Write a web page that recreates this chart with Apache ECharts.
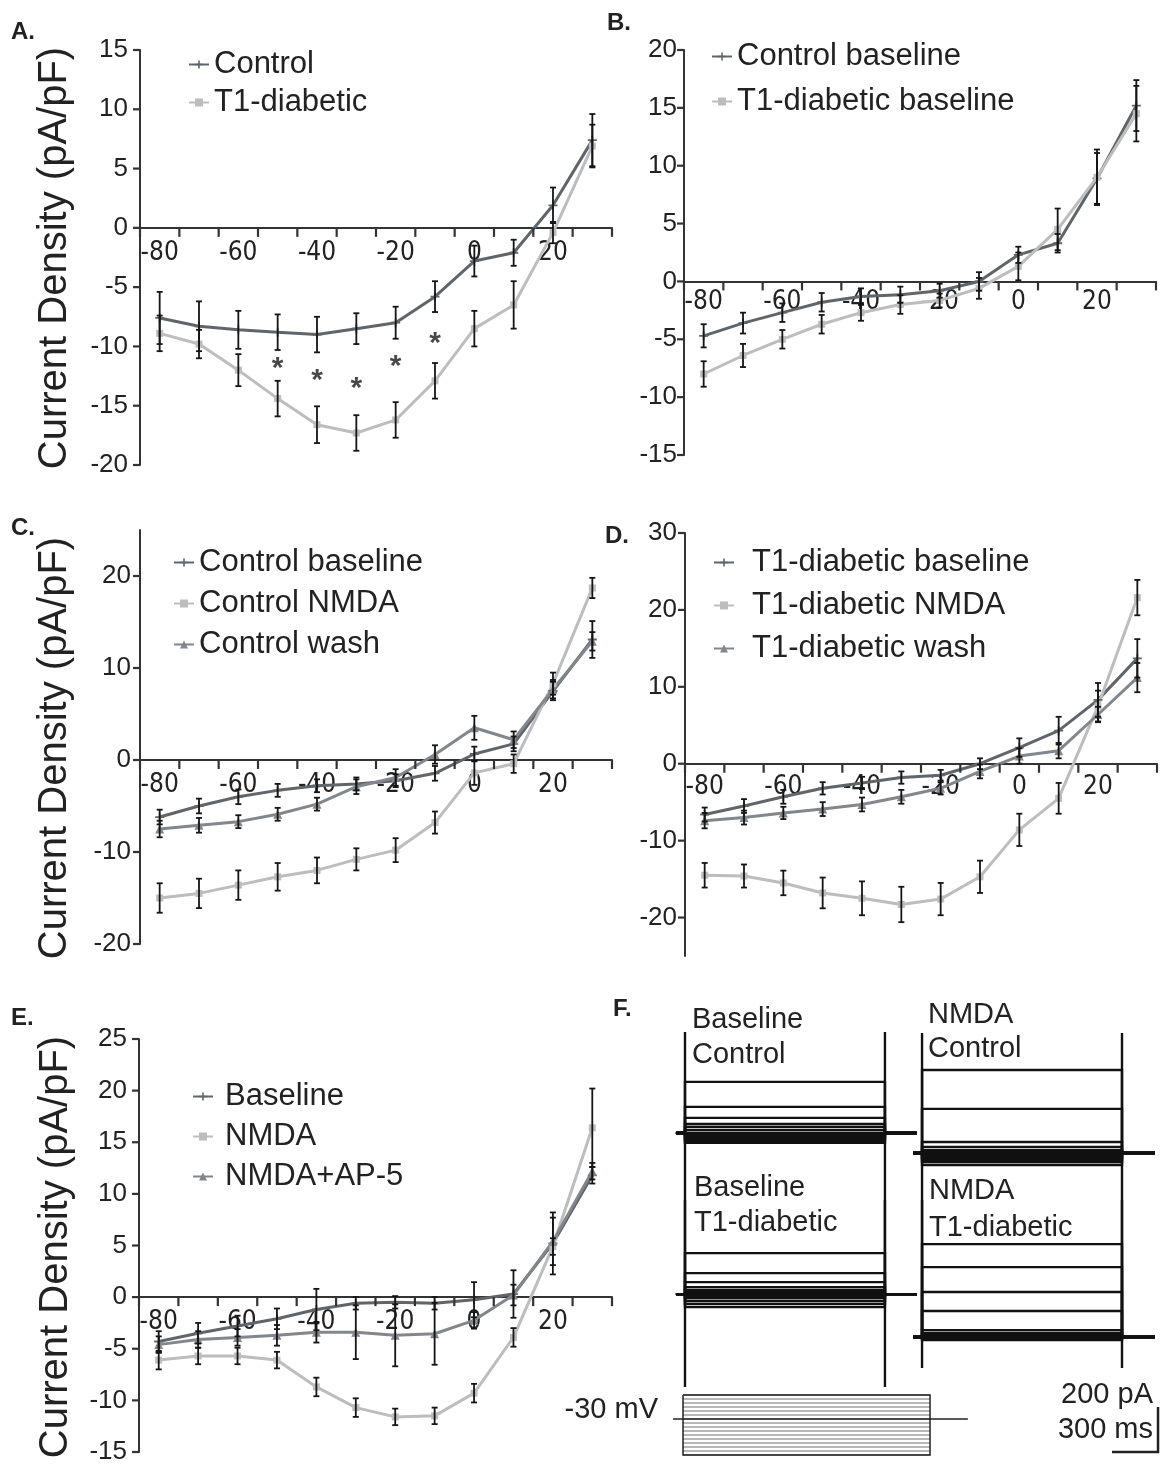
<!DOCTYPE html>
<html>
<head>
<meta charset="utf-8">
<script src="https://cdn.jsdelivr.net/npm/echarts@6/dist/echarts.min.js"></script>
<style>
html, body { margin: 0; padding: 0; background: #fff; }
#fig { width: 1165px; height: 1471px; }
</style>
</head>
<body>
<div id="fig"></div>
<script>
// step potentials (mV) shared by all I-V panels
var voltages = [-80, -70, -60, -50, -40, -30, -20, -10, 0, 10, 20, 30];
var xLabelValues = [-80, -60, -40, -20, 0, 20];
var xTickValues = [-85, -75, -65, -55, -45, -35, -25, -15, -5, 5, 15, 25, 35];

// A. control vs T1-diabetic
var aTicks = [-20, -15, -10, -5, 0, 5, 10, 15];
var aControl = [-7.6, -8.3, -8.6, -8.8, -9.0, -8.5, -8.0, -5.8, -2.8, -2.1, 1.9, 7.4];
var aControlErr = [2.2, 2.1, 1.6, 1.5, 1.5, 1.3, 1.35, 1.3, 1.3, 1.1, 1.5, 2.2];
var aT1 = [-8.9, -9.8, -12.0, -14.4, -16.6, -17.3, -16.2, -12.9, -8.5, -6.5, -0.4, 6.9];
var aT1Err = [1.5, 1.2, 1.35, 1.5, 1.55, 1.5, 1.5, 1.5, 1.5, 2.0, 0.9, 1.8];
var aStars = [null, null, null, -11.3, -12.3, -13.0, -11.15, -9.2, null, null, null, null];

// B. baselines
var bTicks = [-15, -10, -5, 0, 5, 10, 15, 20];
var bControl = [-4.7, -3.6, -2.7, -1.8, -1.3, -1.15, -0.8, 0.0, 2.3, 3.3, 8.9, 15.2];
var bControlErr = [1.0, 0.9, 0.8, 0.8, 0.7, 0.7, 0.6, 0.8, 0.7, 0.8, 2.2, 2.2];
var bT1 = [-8.0, -6.4, -5.0, -3.7, -2.7, -2.0, -1.65, -0.6, 1.3, 4.5, 9.0, 14.5];
var bT1Err = [1.1, 1.0, 0.8, 0.8, 0.7, 0.8, 0.6, 0.9, 1.2, 1.8, 2.4, 2.4];

// C. control: baseline / NMDA / wash
var cTicks = [-20, -10, 0, 10, 20];
var cBase = [-6.2, -5.0, -4.0, -3.3, -2.8, -2.6, -2.25, -1.45, 0.65, 1.75, 7.5, 13.1];
var cBaseErr = [0.8, 0.8, 0.8, 0.7, 0.7, 0.7, 0.7, 0.8, 0.8, 0.8, 1.0, 2.0];
var cNmda = [-15.0, -14.5, -13.6, -12.7, -12.0, -10.8, -9.8, -6.8, -1.4, -0.4, 8.3, 18.7];
var cNmdaErr = [1.6, 1.6, 1.6, 1.5, 1.4, 1.2, 1.3, 1.2, 1.3, 1.0, 1.2, 1.1];
var cWash = [-7.5, -7.1, -6.7, -5.9, -4.8, -2.9, -1.9, 0.6, 3.5, 2.2, 7.7, 12.9];
var cWashErr = [0.9, 0.8, 0.7, 0.7, 0.7, 0.8, 0.9, 1.0, 1.3, 0.9, 1.0, 1.0];

// D. T1-diabetic: baseline / NMDA / wash
var dTicks = [-20, -10, 0, 10, 20, 30];
var dBase = [-6.6, -5.5, -4.3, -3.2, -2.5, -1.8, -1.5, 0.0, 2.1, 4.3, 8.3, 13.7];
var dBaseErr = [0.9, 0.9, 0.9, 0.8, 0.8, 0.8, 0.7, 0.7, 1.2, 1.8, 2.2, 2.5];
var dNmda = [-14.5, -14.6, -15.5, -16.8, -17.5, -18.3, -17.6, -14.7, -8.6, -4.5, 7.5, 21.6];
var dNmdaErr = [1.6, 1.5, 1.6, 2.0, 2.2, 2.3, 2.1, 2.1, 2.1, 2.0, 2.0, 2.3];
var dWash = [-7.4, -7.0, -6.4, -5.9, -5.3, -4.3, -3.2, -1.0, 1.0, 1.7, 6.4, 11.2];
var dWashErr = [1.0, 0.9, 0.8, 0.9, 0.9, 0.9, 0.8, 0.9, 1.0, 1.0, 1.0, 1.9];

// E. baseline / NMDA / NMDA+AP-5
var eTicks = [-15, -10, -5, 0, 5, 10, 15, 20, 25];
var eBase = [-4.3, -3.5, -2.8, -2.1, -1.2, -0.6, -0.5, -0.6, -0.25, 0.3, 5.2, 11.8];
var eBaseErr = [1.0, 1.0, 1.0, 1.0, 2.0, 0.6, 0.6, 0.6, 1.7, 2.3, 3.0, 0.8];
var eNmda = [-6.1, -5.7, -5.7, -6.1, -8.7, -10.7, -11.6, -11.5, -9.3, -3.9, 4.9, 16.4];
var eNmdaErr = [0.9, 0.8, 0.8, 0.8, 0.9, 0.9, 0.8, 0.8, 0.9, 0.9, 0.8, 3.8];
var eAp5 = [-4.6, -4.1, -3.9, -3.7, -3.4, -3.4, -3.7, -3.55, -2.25, 0.2, 5.4, 12.2];
var eAp5Err = [0.8, 0.8, 0.8, 1.0, 1.0, 2.6, 3.0, 3.0, 0.8, 1.0, 2.3, 0.8];

// F. example traces: steady-state step current (pA, relative to holding) per step
var fBaseControl = [-44, -36, -27, -18, -9, 0, 13, 27, 40, 67, 116, 227];
var fBaseT1 = [-58, -44, -31, -18, -9, 0, 9, 18, 31, 53, 93, 182];
var fNmdaControl = [-53, -40, -31, -22, -13, -4, 4, 13, 27, 49, 196, 369];
var fNmdaT1 = [-13, -9, -4, 0, 4, 9, 18, 31, 116, 200, 311, 413];
var protocolSteps = [30, 20, 10, 0, -10, -20, -30, -40, -50, -60, -70, -80, -90, -100, -110, -120];
var holdingPotential = -30;

var SANS = '"Liberation Sans", Arial, sans-serif';
var NARROW = '"Liberation Sans Narrow", "DejaVu Sans Condensed", "Liberation Sans", Arial, sans-serif';
var DARK = '#5f666b', LIGHT = '#bdbdbd', MID = '#81878c';
var PLUS = 'path://M4,0h2v4h4v2h-4v4h-2v-4h-4v-2h4z';

var panels = [
    { key: 'A', grid: { left: 140, top: 50, width: 472, height: 415 }, min: -20, max: 15, ticks: aTicks,
      xMargin: 12, yMargin: 12, legend: { left: 183, top: 44, itemGap: 7, pad: 0 },
      lines: [['Control', aControl, aControlErr, DARK, PLUS, 9],
              ['T1-diabetic', aT1, aT1Err, LIGHT, 'rect', 7]] },
    { key: 'B', grid: { left: 684, top: 50, width: 472, height: 405 }, min: -15, max: 20, ticks: bTicks,
      xMargin: 8, yMargin: 7, legend: { left: 706, top: 36, itemGap: 14, pad: 0 },
      lines: [['Control baseline', bControl, bControlErr, DARK, PLUS, 9],
              ['T1-diabetic baseline', bT1, bT1Err, LIGHT, 'rect', 7]] },
    { key: 'C', grid: { left: 140, top: 530, width: 472, height: 414 }, min: -20, max: 25, ticks: cTicks,
      xMargin: 12, yMargin: 9, legend: { left: 168, top: 542, itemGap: 10, pad: 0 },
      lines: [['Control baseline', cBase, cBaseErr, DARK, PLUS, 9],
              ['Control NMDA', cNmda, cNmdaErr, LIGHT, 'rect', 7],
              ['Control wash', cWash, cWashErr, MID, 'triangle', 9]] },
    { key: 'D', grid: { left: 685, top: 533, width: 472, height: 423 }, min: -25, max: 30, ticks: dTicks,
      xMargin: 11, yMargin: 8, legend: { left: 708, top: 542, itemGap: 12, pad: 13 },
      lines: [['T1-diabetic baseline', dBase, dBaseErr, DARK, PLUS, 9],
              ['T1-diabetic NMDA', dNmda, dNmdaErr, LIGHT, 'rect', 7],
              ['T1-diabetic wash', dWash, dWashErr, MID, 'triangle', 9]] },
    { key: 'E', grid: { left: 139, top: 1039, width: 473, height: 413 }, min: -15, max: 25, ticks: eTicks,
      xMargin: 12, yMargin: 12, legend: { left: 187, top: 1076, itemGap: 9, pad: 7 },
      lines: [['Baseline', eBase, eBaseErr, DARK, PLUS, 9],
              ['NMDA', eNmda, eNmdaErr, LIGHT, 'rect', 7],
              ['NMDA+AP-5', eAp5, eAp5Err, MID, 'triangle', 9]] }
];

// error bar with caps: dims [x, low, high]
function renderErr(params, api) {
    var lo = api.coord([api.value(0), api.value(1)]);
    var hi = api.coord([api.value(0), api.value(2)]);
    var st = { stroke: '#151515', lineWidth: 1.8 };
    return {
        type: 'group',
        children: [
            { type: 'line', shape: { x1: lo[0], y1: lo[1], x2: hi[0], y2: hi[1] }, style: st },
            { type: 'line', shape: { x1: lo[0] - 3, y1: lo[1], x2: lo[0] + 3, y2: lo[1] }, style: st },
            { type: 'line', shape: { x1: hi[0] - 3, y1: hi[1], x2: hi[0] + 3, y2: hi[1] }, style: st }
        ]
    };
}
// axis ticks between the step potentials (down from the x axis) and at the y labels (left of the y axis)
function renderXTick(params, api) {
    var pt = api.coord([api.value(0), api.value(1)]);
    return {
        type: 'group',
        children: [{ type: 'line', shape: { x1: pt[0], y1: pt[1], x2: pt[0], y2: pt[1] + 9 }, style: { stroke: '#333', lineWidth: 2.2 } }]
    };
}
function renderYTick(params, api) {
    var pt = api.coord([api.value(0), api.value(1)]);
    return {
        type: 'group',
        children: [{ type: 'line', shape: { x1: pt[0] - 7, y1: pt[1], x2: pt[0], y2: pt[1] }, style: { stroke: '#333', lineWidth: 2.2 } }]
    };
}

var axisCol = { color: '#333', width: 2 };
var option = {
    animation: false,
    backgroundColor: '#fff',
    grid: [], xAxis: [], yAxis: [], legend: [], series: [], graphic: []
};

panels.forEach(function (p, i) {
    var g = p.grid;
    g.outerBoundsMode = 'none';
    option.grid.push(g);
    // x axis sits on y = 0: shift it up from the grid bottom
    var zeroOffset = -g.height * (0 - p.min) / (p.max - p.min);
    option.xAxis.push({
        type: 'value', gridIndex: i, min: -85, max: 35,
        position: 'bottom', offset: zeroOffset,
        axisLine: { show: true, onZero: false, lineStyle: axisCol },
        axisTick: { show: false },
        axisLabel: { customValues: xLabelValues, margin: p.xMargin, fontSize: 26, color: '#222', fontFamily: NARROW },
        splitLine: { show: false }
    });
    option.yAxis.push({
        type: 'value', gridIndex: i, min: p.min, max: p.max, interval: 5,
        axisLine: { show: true, onZero: false, lineStyle: axisCol },
        axisTick: { show: false },
        axisLabel: { customValues: p.ticks, margin: p.yMargin, fontSize: 26, color: '#222', fontFamily: SANS },
        splitLine: { show: false }
    });
    option.series.push({
        type: 'custom', xAxisIndex: i, yAxisIndex: i, renderItem: renderXTick, silent: true, z: 5,
        encode: { x: 0, y: 1 }, clip: false,
        data: xTickValues.map(function (v) { return [v, 0]; })
    });
    option.series.push({
        type: 'custom', xAxisIndex: i, yAxisIndex: i, renderItem: renderYTick, silent: true, z: 5,
        encode: { x: 0, y: 1 }, clip: false,
        data: p.ticks.map(function (t) { return [-85, t]; })
    });
    var names = [];
    p.lines.forEach(function (l) {
        var nm = p.key + '|' + l[0];
        names.push(nm);
        option.series.push({
            type: 'line', name: nm, xAxisIndex: i, yAxisIndex: i,
            data: voltages.map(function (v, k) { return [v, l[1][k]]; }),
            symbol: l[4], symbolSize: l[5], showSymbol: true,
            itemStyle: { color: l[3] }, lineStyle: { color: l[3], width: 3 }, z: 2, silent: true
        });
        option.series.push({
            type: 'custom', xAxisIndex: i, yAxisIndex: i, renderItem: renderErr, silent: true, z: 3,
            encode: { x: 0, y: [1, 2] },
            data: voltages.map(function (v, k) { return [v, l[1][k] - l[2][k], l[1][k] + l[2][k]]; })
        });
    });
    option.legend.push({
        left: p.legend.left, top: p.legend.top, orient: 'vertical', itemGap: p.legend.itemGap,
        itemWidth: 20, itemHeight: 10, selectedMode: false, data: names,
        formatter: function (n) { return n.split('|')[1]; },
        textStyle: { fontSize: 31, lineHeight: 31, color: '#222', fontFamily: SANS, padding: [0, 0, 0, p.legend.pad] }
    });
});

// asterisks of panel A
option.series.push({
    type: 'scatter', xAxisIndex: 0, yAxisIndex: 0, symbol: 'circle', symbolSize: 1,
    data: voltages.map(function (v, k) { return [v, aStars[k]]; }).filter(function (d) { return d[1] !== null; }),
    itemStyle: { color: 'rgba(0,0,0,0)' }, silent: true, z: 4,
    label: { show: true, position: 'inside', formatter: '*', fontSize: 30, fontWeight: 'bold', color: '#1a1a1a', fontFamily: SANS, offset: [0, 7] }
});

// F: traces in ms / pA
var MS_PER_PX = 300 / 46, PA_PER_PX = 200 / 45;
option.grid.push({ left: 660, top: 1000, width: 500, height: 470, outerBoundsMode: 'none' });
option.xAxis.push({ type: 'value', gridIndex: 5, min: 0, max: 500 * MS_PER_PX, show: false });
option.yAxis.push({ type: 'value', gridIndex: 5, min: -470 * PA_PER_PX, max: 0, show: false });

var fGroups = [
    { amps: fBaseControl, hold: -591, pre: 104, on: 163, off: 1467, post: 1676, up: 449, down: -698 },
    { amps: fBaseT1, hold: -1307, pre: 104, on: 163, off: 1467, post: 1676, up: 418, down: -413 },
    { amps: fNmdaControl, hold: -680, pre: 1650, on: 1709, off: 3013, post: 3228, up: 533, down: -787 },
    { amps: fNmdaT1, hold: -1498, pre: 1650, on: 1709, off: 3013, post: 3228, up: 609, down: -138 }
];
var traceData = [];
fGroups.forEach(function (g) {
    g.amps.forEach(function (a) {
        traceData.push({ coords: [[g.pre, g.hold], [g.on, g.hold], [g.on, g.hold + a], [g.off, g.hold + a], [g.off, g.hold], [g.post, g.hold]] });
    });
    traceData.push({ coords: [[g.on, g.hold + g.up], [g.on, g.hold + g.down]] });
    traceData.push({ coords: [[g.off, g.hold + g.up], [g.off, g.hold + g.down]] });
});
option.series.push({
    type: 'lines', coordinateSystem: 'cartesian2d', xAxisIndex: 5, yAxisIndex: 5, polyline: true,
    data: traceData, lineStyle: { color: '#111', width: 2.4, opacity: 1 }, silent: true, z: 2
});
// scale bar 300 ms / 200 pA
var barX = 3248, barY = -2009;
option.series.push({
    type: 'lines', coordinateSystem: 'cartesian2d', xAxisIndex: 5, yAxisIndex: 5, polyline: true,
    data: [{ coords: [[barX - 300, barY], [barX, barY], [barX, barY + 200]] }],
    lineStyle: { color: '#222', width: 2.5, opacity: 1 }, silent: true
});

// voltage protocol
option.grid.push({ left: 660, top: 1390, width: 320, height: 70, outerBoundsMode: 'none' });
option.xAxis.push({ type: 'value', gridIndex: 6, min: 0, max: 320 * MS_PER_PX, show: false });
option.yAxis.push({ type: 'value', gridIndex: 6, min: -132.5, max: 42.5, show: false });
var pOn = 150, pOff = 1761;
var vTop = protocolSteps[0], vBot = protocolSteps[protocolSteps.length - 1];
option.series.push({
    type: 'lines', coordinateSystem: 'cartesian2d', xAxisIndex: 6, yAxisIndex: 6, polyline: true,
    data: protocolSteps.map(function (v) { return { coords: [[pOn, v], [pOff, v]] }; }),
    lineStyle: { color: '#a0a0a0', width: 1.3, opacity: 1 }, silent: true
});
option.series.push({
    type: 'lines', coordinateSystem: 'cartesian2d', xAxisIndex: 6, yAxisIndex: 6, polyline: true,
    data: [
        { coords: [[85, holdingPotential], [2008, holdingPotential]] },
        { coords: [[pOn, vTop], [pOff, vTop], [pOff, vBot], [pOn, vBot], [pOn, vTop]] }
    ],
    lineStyle: { color: '#222', width: 1.5, opacity: 1 }, silent: true
});

// texts
function txt(s, x, y, size, align, bold) {
    return {
        type: 'text', x: x, y: y, silent: true,
        style: {
            text: s, fill: '#222', font: (bold ? 'bold ' : '') + size + 'px ' + SANS,
            textAlign: align, textVerticalAlign: 'middle', align: align, verticalAlign: 'middle'
        }
    };
}
function yName(x, y) {
    var t = txt('Current Density (pA/pF)', x, y, 40, 'center', false);
    t.rotation = Math.PI / 2;
    return t;
}
option.graphic = [
    txt('A.', 11, 32, 24, 'left', true),
    txt('B.', 607, 23, 24, 'left', true),
    txt('C.', 11, 528, 24, 'left', true),
    txt('D.', 605, 536, 24, 'left', true),
    txt('E.', 11, 1018, 24, 'left', true),
    txt('F.', 613, 1009, 24, 'left', true),
    yName(55, 258), yName(55, 748), yName(56, 1247),
    txt('Baseline', 692, 1020, 29, 'left'),
    txt('Control', 692, 1055, 29, 'left'),
    txt('NMDA', 928, 1015, 29, 'left'),
    txt('Control', 928, 1049, 29, 'left'),
    txt('Baseline', 694, 1188, 29, 'left'),
    txt('T1-diabetic', 694, 1223, 29, 'left'),
    txt('NMDA', 929, 1191, 29, 'left'),
    txt('T1-diabetic', 929, 1228, 29, 'left'),
    txt('200 pA', 1153, 1395, 29, 'right'),
    txt('300 ms', 1153, 1430, 29, 'right'),
    txt('-30 mV', 658, 1410, 29, 'right')
];

var myChart = echarts.init(document.getElementById('fig'));
option && myChart.setOption(option);
</script>
</body>
</html>
